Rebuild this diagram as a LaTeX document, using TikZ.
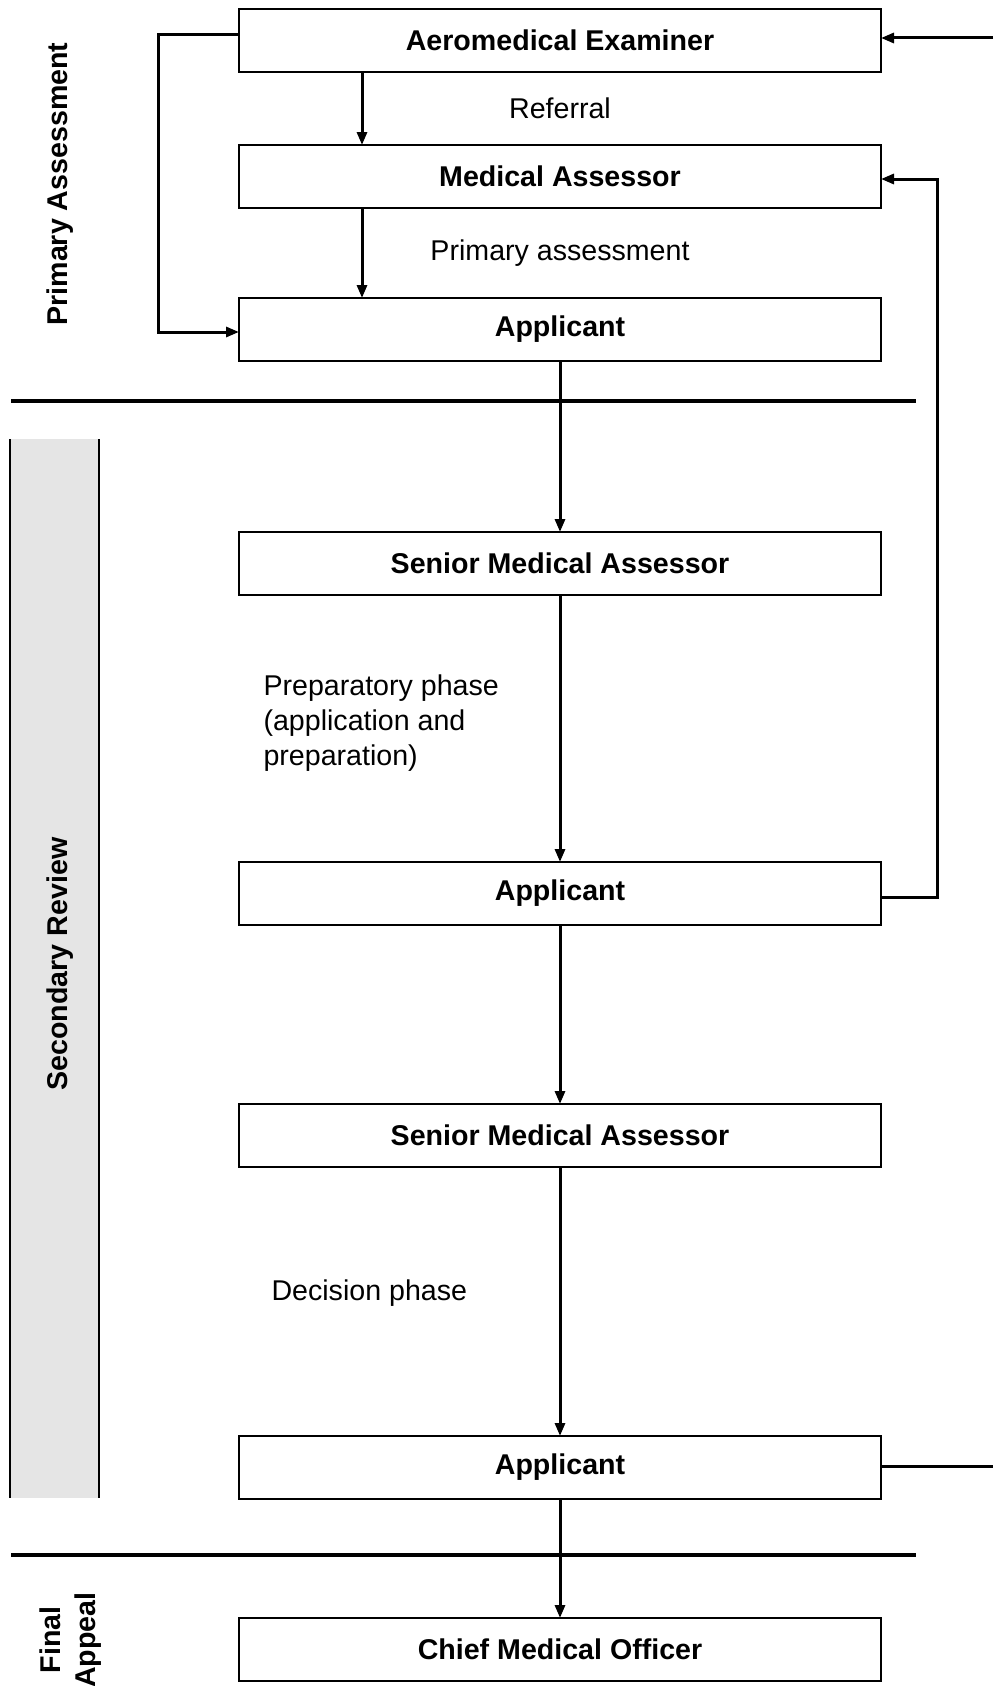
\documentclass[tikz,border=0pt]{standalone}
\usepackage{fontspec}
\setmainfont{Liberation Sans}
\usetikzlibrary{arrows.meta,positioning,calc}

\begin{document}
\begin{tikzpicture}[x=1pt, y=-1pt,
    box/.style={draw, line width=2pt, outer sep=0pt, minimum width=642pt, minimum height=63pt, align=center, font=\fontsize{28.6}{35}\selectfont\bfseries},
    arr/.style={-{Triangle[length=13pt,width=10pt]}, line width=3pt},
    link/.style={line width=3pt},
    divider/.style={line width=4pt},
    phase/.style={align=left, font=\fontsize{28.6}{35}\selectfont},
    side/.style={rotate=90, align=center, font=\fontsize{28.6}{35}\selectfont\bfseries}
  ]
    \useasboundingbox (0,0) rectangle (993,1686);
    \fill[black!10] (10,439) rectangle (99,1498);
    \draw[line width=1.5pt] (10,439) -- (10,1498) (99,439) -- (99,1498);

    \node[box] (ame) at (560,40.5) {Aeromedical Examiner};
    \node[box,below=73pt of ame] (ma) {Medical Assessor};
    \node[box,below=90pt of ma] (app1) {Applicant};
    \node[box,below=171pt of app1] (sma1) {Senior Medical Assessor};
    \node[box,below=267pt of sma1] (app2) {Applicant};
    \node[box,below=179pt of app2] (sma2) {Senior Medical Assessor};
    \node[box,below=269pt of sma2] (app3) {Applicant};
    \node[box,below=119pt of app3] (cmo) {Chief Medical Officer};

    \node[side] (primlbl) at (60,184) {Primary Assessment};
    \node[side] (seclbl) at (60,964) {Secondary Review};
    \node[side] (finlbl) at (71,1640) {Final\\Appeal};

    \node[phase] (referral) at ($(ame.south)!0.5!(ma.north)$) {Referral};
    \node[phase] (primary) at ($(ma.south)!0.5!(app1.north)$) {Primary assessment};
    \node[phase,anchor=west] (prep) at (260,723) {Preparatory phase\\(application and\\preparation)};
    \node[phase,anchor=west] (decision) at (268,1293) {Decision phase};

    \coordinate (redge) at (993,0);
    \coordinate (amein) at ([yshift=2.5pt]ame.east);
    \coordinate (app3out) at ([yshift=1.5pt]app3.east);

    \draw[arr] ([xshift=-198pt]ame.south) -- ([xshift=-198pt]ma.north);
    \draw[arr] ([xshift=-198pt]ma.south) -- ([xshift=-198pt]app1.north);
    \draw[arr] ([yshift=5.5pt]ame.west) -- ++(-81,0) |- ([yshift=-2.5pt]app1.west);
    \foreach \a/\b in {app1/sma1, sma1/app2, app2/sma2, sma2/app3, app3/cmo}
      \draw[arr] (\a) -- (\b);
    \draw[arr] ([yshift=-4pt]app2.east) -- ++(56,0) |- ([yshift=-2.5pt]ma.east);
    \draw[link] (app3out) -- (app3out -| redge);
    \draw[arr] (amein -| redge) -- (amein);

    \draw[divider] (11,401) -- (916,401);
    \draw[divider] (11,1555) -- (916,1555);
\end{tikzpicture}
\end{document}
